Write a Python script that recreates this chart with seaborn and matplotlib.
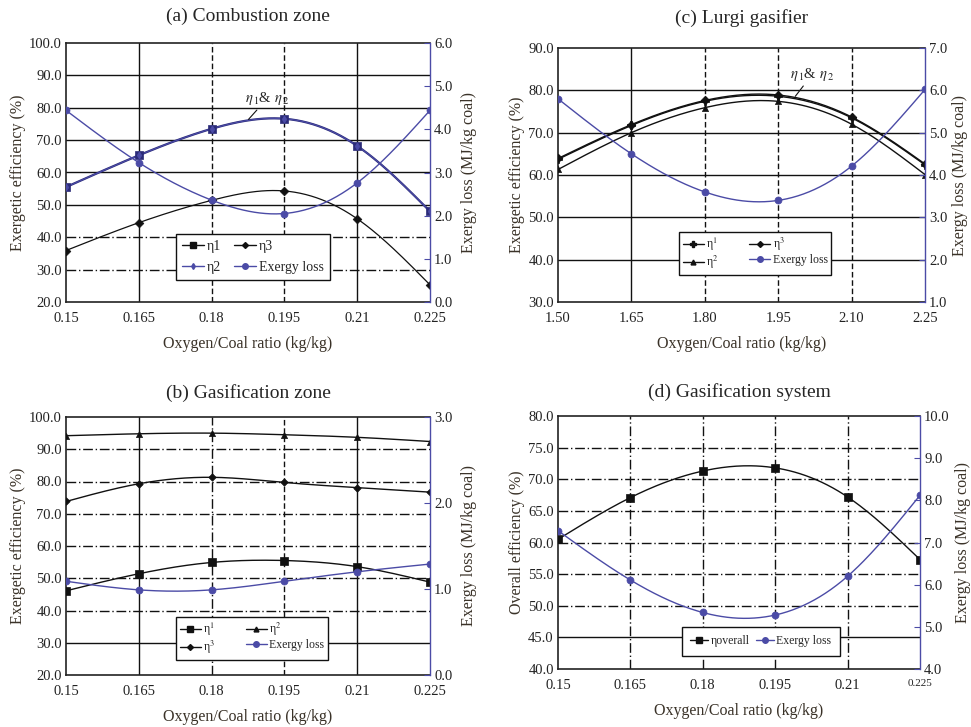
import numpy as np
import pandas as pd
import matplotlib
matplotlib.use("Agg")
import matplotlib.pyplot as plt
from matplotlib.lines import Line2D
import seaborn as sns

sns.set_style("white")
plt.rcParams['font.family'] = ['Liberation Serif', 'DejaVu Serif']
plt.rcParams['mathtext.fontset'] = 'stix'

# ---------------- data ----------------
ratio = [0.15, 0.165, 0.18, 0.195, 0.21, 0.225]
ratio_labels = ["0.15", "0.165", "0.18", "0.195", "0.21", "0.225"]
lurgi_ratio = [1.50, 1.65, 1.80, 1.95, 2.10, 2.25]
lurgi_labels = ["1.50", "1.65", "1.80", "1.95", "2.10", "2.25"]

# (a) combustion zone
a_eta1 = [55.5, 65.3, 73.5, 76.6, 68.2, 48.0]
a_eta2 = [55.5, 65.3, 73.5, 76.6, 68.2, 48.0]
a_eta3 = [35.9, 44.5, 51.4, 54.3, 45.7, 25.3]
a_loss = [4.44, 3.23, 2.36, 2.05, 2.76, 4.44]

# (b) gasification zone
b_eta1 = [46.1, 51.4, 54.9, 55.5, 53.6, 48.8]
b_eta2 = [94.2, 94.8, 95.0, 94.5, 93.7, 92.4]
b_eta3 = [73.8, 79.3, 81.3, 79.7, 78.1, 76.7]
b_loss = [1.09, 0.99, 0.99, 1.09, 1.20, 1.29]

# (c) Lurgi gasifier
c_eta1 = [63.7, 71.7, 77.4, 78.6, 73.5, 62.4]
c_eta2 = [61.3, 70.0, 75.9, 77.4, 72.0, 60.1]
c_eta3 = [63.9, 71.9, 77.6, 78.9, 73.7, 62.6]
c_loss = [5.80, 4.50, 3.60, 3.40, 4.21, 6.02]

# (d) gasification system
d_overall = [60.5, 67.1, 71.3, 71.8, 67.2, 57.3]
d_loss = [7.28, 6.11, 5.34, 5.28, 6.20, 8.12]

BLUE = "#4b4ba6"
NAVY = "#2b2b78"
BLACK = "#111111"
LABEL_COL = "#3a3228"
DASHDOT = (0, (7, 2, 1, 2))
DASHED = (0, (4, 2))


def smooth(x, y, n=200):
    """Natural cubic spline used only to render a smooth line through the read points."""
    x = np.asarray(x, float); y = np.asarray(y, float)
    m = len(x); h = np.diff(x)
    A = np.zeros((m, m)); r = np.zeros(m)
    A[0, 0] = A[-1, -1] = 1
    for i in range(1, m - 1):
        A[i, i - 1] = h[i - 1]; A[i, i] = 2 * (h[i - 1] + h[i]); A[i, i + 1] = h[i]
        r[i] = 6 * ((y[i + 1] - y[i]) / h[i] - (y[i] - y[i - 1]) / h[i - 1])
    M = np.linalg.solve(A, r)
    xs = np.linspace(x[0], x[-1], n); ys = np.empty_like(xs)
    for k, t in enumerate(xs):
        i = min(np.searchsorted(x, t, side='right') - 1, m - 2)
        a, b = x[i], x[i + 1]; hh = b - a
        ys[k] = (M[i] * (b - t) ** 3 / (6 * hh) + M[i + 1] * (t - a) ** 3 / (6 * hh)
                 + (y[i] / hh - M[i] * hh / 6) * (b - t) + (y[i + 1] / hh - M[i + 1] * hh / 6) * (t - a))
    return xs, ys


def series(ax, x, y, color, marker, ms=4, lw=1.0):
    xs, ys = smooth(x, y)
    sns.lineplot(x=xs, y=ys, ax=ax, color=color, lw=lw, sort=False, estimator=None, legend=False)
    sns.scatterplot(x=x, y=y, ax=ax, color=color, marker=marker, s=ms ** 2 * 1.6,
                    edgecolor=color, linewidth=0.5, legend=False, zorder=5)


def frame(ax, ax2, xt, xl, ylim, yt, y2lim, y2t, ylabel, hsolid, hdash, vsolid, vdash, vdd, r_pad=6):
    ax.set_xlim(xt[0], xt[-1]); ax.set_ylim(*ylim)
    ax.set_xticks(xt); ax.set_xticklabels(xl)
    ax.set_yticks(yt); ax.set_yticklabels([f"{v:.1f}" for v in yt])
    ax2.set_ylim(*y2lim); ax2.set_yticks(y2t); ax2.set_yticklabels([f"{v:.1f}" for v in y2t])
    for v in hsolid:
        ax.axhline(v, color=BLACK, lw=1.0, zorder=0)
    for v in hdash:
        ax.axhline(v, color=BLACK, lw=1.0, ls=DASHDOT, zorder=0)
    for v in vsolid:
        ax.axvline(v, color=BLACK, lw=1.0, zorder=0)
    for v in vdash:
        ax.axvline(v, color=BLACK, lw=1.0, ls=DASHED, zorder=0)
    for v in vdd:
        ax.axvline(v, color=BLACK, lw=1.0, ls=DASHDOT, zorder=0)
    ax.tick_params(axis='x', direction='in', length=0, labelsize=10.5, pad=7, colors='#222222')
    ax.tick_params(axis='y', direction='in', length=0, labelsize=10.5, pad=3, colors='#222222')
    ax2.tick_params(axis='y', direction='in', length=4, color=BLUE, labelsize=10.5, pad=3, labelcolor='#222222')
    for s in ['left', 'bottom', 'top']:
        ax.spines[s].set_color('#222222'); ax.spines[s].set_linewidth(1.2)
    ax.spines['right'].set_visible(False)
    for s in ['left', 'bottom', 'top']:
        ax2.spines[s].set_visible(False)
    ax2.spines['right'].set_color(BLUE); ax2.spines['right'].set_linewidth(1.0)
    ax.set_ylabel(ylabel, fontsize=11.5, color=LABEL_COL, labelpad=2)
    ax2.set_ylabel("Exergy loss (MJ/kg coal)", fontsize=11.5, color=LABEL_COL, labelpad=r_pad)
    ax.set_xlabel("Oxygen/Coal ratio (kg/kg)", fontsize=11.5, color=LABEL_COL, labelpad=8)
    ax.set_facecolor('white')
    ax2.patch.set_visible(False)


def handle(color, marker, label, ms=4):
    return Line2D([0], [0], color=color, marker=marker, markersize=ms, lw=1.0, label=label)


fig = plt.figure(figsize=(9.71, 7.27), dpi=100)
W, H = 971, 727


def add_axes(l, r, t, b):
    return fig.add_axes([l / W, (H - b) / H, (r - l) / W, (b - t) / H])


def legend(ax, handles, x0, y0, fs, colsp, lsp, bpad, ncol=2, hl=1.8):
    leg = ax.legend(handles=handles, ncol=ncol, loc='upper left', bbox_to_anchor=(x0, y0),
                    borderaxespad=0, fontsize=fs, frameon=True, fancybox=False, edgecolor=BLACK,
                    framealpha=1, handlelength=hl, columnspacing=colsp, borderpad=bpad,
                    labelspacing=lsp, handletextpad=0.2)
    leg.get_frame().set_linewidth(1.0)
    leg.set_zorder(20)
    return leg

# ---------- (a) ----------
ax = add_axes(66, 430, 43, 302)
ax2 = ax.twinx()
frame(ax, ax2, ratio, ratio_labels, (20, 100), np.arange(20, 101, 10), (0, 6), np.arange(0, 6.1, 1),
      "Exergetic efficiency (%)", [50, 60, 70, 80, 90], [30, 40], [0.165, 0.21], [0.18, 0.195], [])
series(ax, ratio, a_eta3, BLACK, 'D', ms=3.5, lw=0.9)
series(ax, ratio, a_eta1, NAVY, 's', ms=4.5, lw=1.6)
series(ax, ratio, a_eta2, BLUE, 'd', ms=3, lw=0.8)
series(ax2, ratio, a_loss, BLUE, 'o', ms=4, lw=1.0)
ax.set_title("(a) Combustion zone", fontsize=14, pad=16)
ax.annotate(r"$\eta_{\,1}$& $\eta_{\,2}$", xy=(0.1876, 76.4), xytext=(0.1915, 80.3), fontsize=10.5,
            ha='center', va='bottom', arrowprops=dict(arrowstyle='-', color=BLACK, lw=0.8,
                                                      shrinkA=0, shrinkB=0))
legend(ax, [handle(BLACK, 's', "η1"), handle(BLUE, 'd', "η2", 3),
            handle(BLACK, 'D', "η3", 3), handle(BLUE, 'o', "Exergy loss")],
       (176 - 66) / 364, (302 - 234) / 259, 10, 0.9, 0.55, 0.45, hl=1.6)

# ---------- (c) ----------
ax = add_axes(558, 925, 48, 302)
ax2 = ax.twinx()
frame(ax, ax2, lurgi_ratio, lurgi_labels, (30, 90), np.arange(30, 91, 10), (1, 7), np.arange(1, 7.1, 1),
      "Exergetic efficiency (%)", [40, 50, 60, 70, 80], [], [1.65], [1.80, 1.95, 2.10], [], r_pad=3)
series(ax, lurgi_ratio, c_eta2, BLACK, '^', ms=3.5, lw=1.0)
series(ax, lurgi_ratio, c_eta3, BLACK, 'D', ms=3.5, lw=1.0)
series(ax, lurgi_ratio, c_eta1, BLACK, 'P', ms=4, lw=1.0)
series(ax2, lurgi_ratio, c_loss, BLUE, 'o', ms=4, lw=1.0)
ax.set_title("(c) Lurgi gasifier", fontsize=14, pad=18)
ax.annotate(r"$\eta_{\,1}$& $\eta_{\,2}$", xy=(1.985, 78.6), xytext=(2.02, 81.8), fontsize=10.5,
            ha='center', va='bottom', arrowprops=dict(arrowstyle='-', color=BLACK, lw=0.8,
                                                      shrinkA=0, shrinkB=0))
legend(ax, [handle(BLACK, 'P', r"η$^1$"), handle(BLACK, '^', r"η$^2$", 3.5),
            handle(BLACK, 'D', r"η$^3$", 3), handle(BLUE, 'o', "Exergy loss")],
       (679 - 558) / 367, (302 - 232) / 254, 8.5, 2.6, 0.1, 0.3)

# ---------- (b) ----------
ax = add_axes(66, 430, 417, 675)
ax2 = ax.twinx()
frame(ax, ax2, ratio, ratio_labels, (20, 100), np.arange(20, 101, 10), (0, 3), np.arange(0, 3.1, 1),
      "Exergetic efficiency (%)", [30], [40, 50, 60, 70, 80, 90], [0.165, 0.21], [0.195], [0.18])
series(ax, ratio, b_eta2, BLACK, '^', ms=3.5, lw=1.0)
series(ax, ratio, b_eta3, BLACK, 'D', ms=3, lw=1.0)
series(ax, ratio, b_eta1, BLACK, 's', ms=5, lw=1.0)
series(ax2, ratio, b_loss, BLUE, 'o', ms=4, lw=1.0)
ax.set_title("(b) Gasification zone", fontsize=14, pad=14)
legend(ax, [handle(BLACK, 's', r"η$^1$"), handle(BLACK, 'D', r"η$^3$", 3),
            handle(BLACK, '^', r"η$^2$", 3.5), handle(BLUE, 'o', "Exergy loss")],
       (176 - 66) / 364, (675 - 617) / 258, 8.5, 2.6, 0.1, 0.3)

# ---------- (d) ----------
ax = add_axes(558, 920, 416, 669)
ax2 = ax.twinx()
frame(ax, ax2, ratio, ratio_labels, (40, 80), np.arange(40, 80.1, 5), (4, 10), np.arange(4, 10.1, 1),
      "Overall efficiency (%)", [45], [50, 55, 60, 65, 70, 75], [], [], [0.165, 0.18, 0.195, 0.21], r_pad=4)
ax.get_xticklabels()[-1].set_fontsize(8)
series(ax, ratio, d_overall, BLACK, 's', ms=5, lw=1.0)
series(ax2, ratio, d_loss, BLUE, 'o', ms=4, lw=1.0)
ax.set_title("(d) Gasification system", fontsize=14, pad=14)
legend(ax, [handle(BLACK, 's', "ηoverall"), handle(BLUE, 'o', "Exergy loss")],
       (682 - 558) / 362, (669 - 627) / 253, 8.5, 0.6, 0.5, 0.7, hl=1.5)

fig.savefig("out.png", dpi=100, facecolor='white')
